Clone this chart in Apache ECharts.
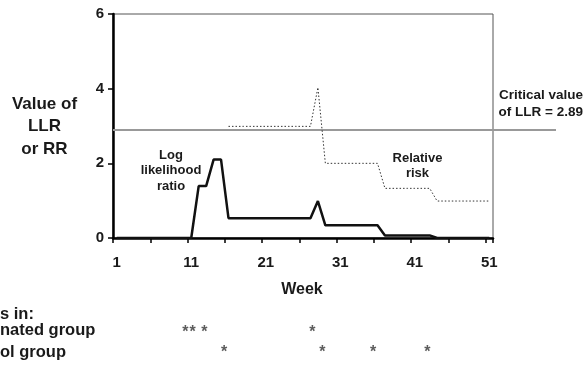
<!DOCTYPE html>
<html>
<head>
<meta charset="utf-8">
<script src="https://cdn.jsdelivr.net/npm/echarts@6/dist/echarts.min.js"></script>
<style>
  html, body { margin: 0; padding: 0; background: #fff; }
  #chart { width: 584px; height: 366px; }
</style>
</head>
<body>
<div id="chart"></div>
<script>
// week categories (x axis)
const weeks = [1, 2, 3, 4, 5, 6, 7, 8, 9, 10, 11, 12, 13, 14, 15, 16, 17, 18, 19, 20,
  21, 22, 23, 24, 25, 26, 27, 28, 29, 30, 31, 32, 33, 34, 35, 36, 37, 38, 39, 40,
  41, 42, 43, 44, 45, 46, 47, 48, 49, 50, 51];

// log likelihood ratio, one value per week
const llrValues = [0, 0, 0, 0, 0, 0, 0, 0, 0, 0, 0,
  1.39, 1.39, 2.1, 2.1,
  0.53, 0.53, 0.53, 0.53, 0.53, 0.53, 0.53, 0.53, 0.53, 0.53, 0.53, 0.53,
  0.99,
  0.34, 0.34, 0.34, 0.34, 0.34, 0.34, 0.34, 0.34,
  0.07, 0.07, 0.07, 0.07, 0.07, 0.07, 0.07,
  0, 0, 0, 0, 0, 0, 0, 0];

// relative risk, starts at week 16
const rrValues = [null, null, null, null, null, null, null, null, null, null,
  null, null, null, null, null,
  2.99, 2.99, 2.99, 2.99, 2.99, 2.99, 2.99, 2.99, 2.99, 2.99, 2.99, 2.99,
  4.03,
  2.0, 2.0, 2.0, 2.0, 2.0, 2.0, 2.0, 2.0,
  1.33, 1.33, 1.33, 1.33, 1.33, 1.33, 1.33,
  0.99, 0.99, 0.99, 0.99, 0.99, 0.99, 0.99, 0.99];

const criticalLLR = 2.89;

// weeks where the asterisks sit
const vaccinatedCases = [10.2, 11.2, 12.75, 27.25];
const controlCases = [15.4, 28.6, 35.4, 42.7];
const caseRows = ['nated group', 'ol group'];

const font = "'Liberation Sans', Arial, sans-serif";
const textColor = '#1a1a1a';
const gridLeft = 113, gridTop = 14, gridWidth = 380, gridHeight = 224;

const chart = echarts.init(document.getElementById('chart'), null, { renderer: 'canvas' });

// star position: centre of week w on the category band axis = w - 0.5
const starData = (list, row) => list.map(w => [w - 0.5, row]);

const option = {
  animation: false,
  backgroundColor: '#fff',
  grid: [
    {
      left: gridLeft, top: gridTop, width: gridWidth, height: gridHeight,
      show: true, borderColor: '#555', borderWidth: 1,
      outerBoundsMode: 'none', containLabel: false
    },
    {
      left: gridLeft, top: 323, width: gridWidth, height: 39.4,
      outerBoundsMode: 'none', containLabel: false
    }
  ],
  xAxis: [
    {
      type: 'category',
      gridIndex: 0,
      data: weeks,
      boundaryGap: true,
      axisLine: { lineStyle: { color: '#000', width: 2.5 } },
      axisTick: { show: true, inside: false, length: 5, interval: 4, lineStyle: { color: '#000', width: 1.5 } },
      axisLabel: {
        interval: 9, margin: 17,
        fontFamily: font, fontSize: 15, fontWeight: 'bold', color: textColor
      },
      splitLine: { show: false }
    },
    {
      type: 'value', gridIndex: 1, min: 0, max: weeks.length, show: false
    }
  ],
  yAxis: [
    {
      type: 'value',
      gridIndex: 0,
      min: 0, max: 6, interval: 2,
      axisLine: { show: true, lineStyle: { color: '#000', width: 2.5 } },
      axisTick: { show: true, inside: false, length: 5, lineStyle: { color: '#000', width: 1.5 } },
      axisLabel: { margin: 9, fontFamily: font, fontSize: 15, fontWeight: 'bold', color: textColor },
      splitLine: { show: false }
    },
    {
      type: 'category', gridIndex: 1, data: caseRows, inverse: true, show: false
    }
  ],
  series: [
    {
      name: 'Relative risk',
      type: 'line',
      data: rrValues,
      showSymbol: false,
      symbol: 'none',
      connectNulls: false,
      lineStyle: { color: '#333', width: 1, type: [1.5, 2] },
      z: 3
    },
    {
      name: 'Log likelihood ratio',
      type: 'line',
      data: llrValues,
      showSymbol: false,
      symbol: 'none',
      lineStyle: { color: '#111', width: 2.5 },
      z: 4
    },
    {
      type: 'scatter',
      xAxisIndex: 1, yAxisIndex: 1,
      data: starData(vaccinatedCases, 0).concat(starData(controlCases, 1)),
      symbolSize: 0,
      label: {
        show: true, position: 'inside', formatter: '*',
        fontFamily: font, fontSize: 16, fontWeight: 'bold', color: '#333'
      }
    }
  ]
};

chart.setOption(option);

// critical value line, placed with the y scale, runs past the plot to the note
const yCrit = chart.convertToPixel({ gridIndex: 0 }, [0, criticalLLR])[1];

const txt = (x, y, text, size, align, lh) => ({
  type: 'text', x: x, y: y, z: 10,
  style: {
    text: text, fill: textColor, font: 'bold ' + size + 'px ' + font,
    textAlign: align, textVerticalAlign: 'middle', lineHeight: lh || size
  }
});

chart.setOption({
  graphic: [
    {
      type: 'line', z: 1,
      shape: { x1: gridLeft, y1: yCrit, x2: 556, y2: yCrit },
      style: { stroke: '#999', lineWidth: 2 }
    },
    txt(44.5, 126.5, 'Value of\nLLR\nor RR', 17, 'center', 22.5),
    txt(302, 290, 'Week', 16, 'center'),
    txt(171, 170.5, 'Log\nlikelihood\nratio', 13, 'center', 15.5),
    txt(417.5, 165.5, 'Relative\nrisk', 13, 'center', 15),
    txt(583, 103.5, 'Critical value\nof LLR = 2.89', 13.5, 'right', 17),
    txt(0, 314, 's in:', 16.5, 'left'),
    txt(0, 330.5, caseRows[0], 16.5, 'left'),
    txt(0, 352.5, caseRows[1], 16.5, 'left')
  ]
});
</script>
</body>
</html>
